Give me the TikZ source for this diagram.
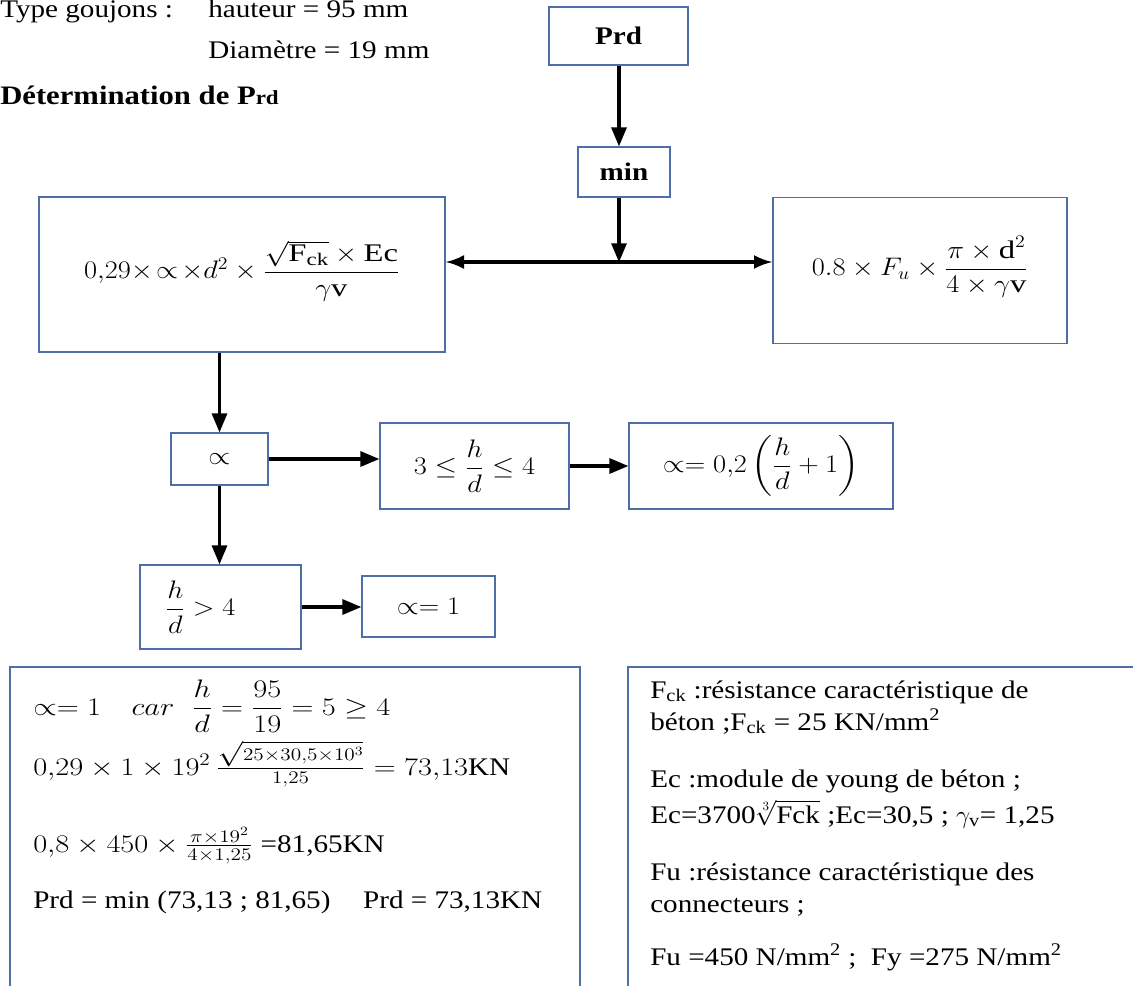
\RequirePackage{fix-cm}
\documentclass[tikz,border=0pt]{standalone}
\usepackage{amsmath}
\usepackage{amssymb}
\usepackage{fontspec}
\setmainfont{Liberation Serif}[FakeStretch=1.15]
\usetikzlibrary{arrows}
\definecolor{cadre}{HTML}{4F6EA8}
\newcommand{\largeur}[1]{\scalebox{1.12}[1]{#1}}
\newcommand{\calcul}[1]{\scalebox{1.2}[1]{#1}}
\newcommand{\monte}{\rule[-22pt]{0pt}{0pt}}

\begin{document}
\begin{tikzpicture}[x=0.75pt, y=-0.75pt,
  every node/.style={font=\fontsize{19}{23}\selectfont},
  bloc/.style 2 args={draw=cadre, line width=1.3pt, rectangle, inner sep=0pt,
    minimum width=#1*0.75pt, minimum height=#2*0.75pt},
  ligne/.style={anchor=base west, inner sep=0pt},
  paths/.style={->, line width=2.3pt, >=triangle 45},
  both/.style={<->, line width=3.6pt, >=latex}]

 \useasboundingbox (0,0) rectangle (1133,986);
 \clip (0,0) rectangle (1133,986);

 % en-tete
 \node[ligne] (type) at (0,17) {Type goujons :};
 \node[ligne] (haut) at (208,17) {hauteur = 95 mm};
 \node[ligne] (diam) at (208,58) {Diamètre = 19 mm};
 \node[ligne] (titre) at (0,104)
     {\fontsize{20}{24}\selectfont\bfseries Détermination de P{\fontsize{15}{18}\selectfont rd}};

 % organigramme
 \node[bloc={139}{58}] (prd) at (618.5,36) {\bfseries Prd};
 \node[bloc={92}{50}] (mini) at (624,172) {\bfseries min};

 \node[bloc={406}{155}] (beton) at (242,274.5)
     {\largeur{$0{,}29 \times\!\propto\!\times d^2 \times
       \dfrac{\sqrt{\textnormal{F\textsubscript{ck}}}\times \textnormal{Ec}}{\gamma\textnormal{v}}$}\monte};
 \node[bloc={294}{146}] (acier) at (920,270.5)
     {\largeur{$0.8 \times F_u \times \dfrac{\pi\times \textnormal{d}^2}{4\times\gamma\textnormal{v}}$}\monte};
 \coordinate (jonction) at (619,262);

 \node[bloc={97}{52}] (alpha) at (219.5,459) {\largeur{$\propto$}};
 \node[bloc={189}{86}] (crit1) at (474.5,466) {\largeur{$3 \le \dfrac{h}{d} \le 4$}};
 \node[bloc={264}{86}] (res1) at (761,466)
     {\largeur{$\propto= 0{,}2\left(\dfrac{h}{d}+1\right)$}};
 \node[bloc={161}{84}] (crit2) at (220.5,607)
     {\largeur{$\dfrac{h}{d} > 4$}\hspace*{30pt}};
 \node[bloc={133}{61}] (res2) at (428.5,606.5) {\largeur{$\propto= 1$}};

 % cadres du bas
 \node[bloc={570}{345}] (calcul) at (295,839.5) {};
 \node[bloc={535}{345}] (notes) at (895.5,839.5) {};

 \node[ligne] (c1) at (33,715)
     {\calcul{$\propto= 1 \quad car\ \ \dfrac{h}{d} = \dfrac{95}{19} = 5 \ge 4$}};
 \node[ligne] (c2) at (33,775)
     {\calcul{$0{,}29\times1\times19^2\,\frac{\sqrt{25\times30{,}5\times10^3}}{1{,}25} = 73{,}13$}KN};
 \node[ligne] (c3) at (33,852)
     {\calcul{$0{,}8\times450\times\frac{\pi\times19^2}{4\times1{,}25}$} =81,65KN};
 \node[ligne] (c4) at (33,908)
     {Prd = min (73,13 ; 81,65) \quad Prd = 73,13KN};

 \node[ligne] (n1) at (650,698) {F\textsubscript{ck} :résistance caractéristique de};
 \node[ligne] (n2) at (650,730) {béton ;F\textsubscript{ck} = 25 KN/mm\textsuperscript{2}};
 \node[ligne] (n3) at (650,787) {Ec :module de young de béton ;};
 \node[ligne] (n4) at (650,823)
     {Ec=3700$\sqrt[3]{\textnormal{Fck}}$ ;Ec=30,5 ; $\gamma_{\textnormal{v}}$= 1,25};
 \node[ligne] (n5) at (650,880) {Fu :résistance caractéristique des};
 \node[ligne] (n6) at (650,912) {connecteurs ;};
 \node[ligne] (n7) at (650,965)
     {Fu =450 N/mm\textsuperscript{2} ;\ \ Fy =275 N/mm\textsuperscript{2}};

 % fleches
 \draw [paths] (prd.south -| jonction) -- (mini.north -| jonction);
 \draw [paths] (mini.south -| jonction) -- (jonction);
 \draw [both] (jonction -| beton.east) -- (jonction -| acier.west);
 \draw [paths] (beton.south -| alpha) -- (alpha.north);
 \draw [paths] (alpha.east) -- (crit1.west |- alpha.east);
 \draw [paths] (crit1.east) -- (res1.west);
 \draw [paths] (alpha.south) -- (crit2.north -| alpha.south);
 \draw [paths] (crit2.east) -- (res2.west |- crit2.east);

\end{tikzpicture}
\end{document}
